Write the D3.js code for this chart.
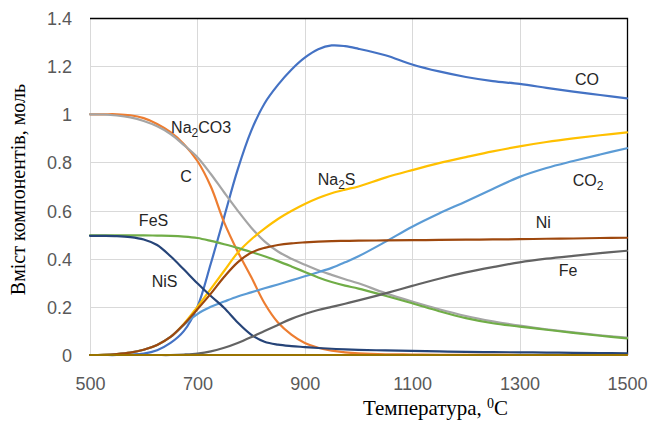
<!DOCTYPE html>
<html>
<head>
<meta charset="utf-8">
<script src="https://cdn.jsdelivr.net/npm/d3@7"></script>
<style>
  html, body { margin: 0; padding: 0; background: #fff; }
  svg { display: block; }
</style>
</head>
<body>
<svg id="chart" width="649" height="426"></svg>
<script>
// ---- Data ----
const temps = [500,525,550,575,600,625,650,675,700,725,750,775,800,825,850,875,900,925,950,975,1000,1050,1100,1150,1200,1250,1300,1350,1400,1450,1500];

const CO     = [0,0,0,0.002,0.006,0.02,0.05,0.1,0.2,0.38,0.575,0.77,0.93,1.045,1.122,1.185,1.235,1.27,1.286,1.283,1.272,1.245,1.207,1.178,1.155,1.138,1.126,1.11,1.094,1.08,1.066];
const C      = [1,1,1,0.996,0.984,0.96,0.926,0.876,0.806,0.7,0.55,0.43,0.325,0.215,0.135,0.085,0.05,0.03,0.018,0.011,0.007,0.003,0.002,0.001,0.001,0.001,0,0,0,0,0];
const Na2CO3 = [1,0.999,0.995,0.987,0.972,0.95,0.918,0.872,0.822,0.752,0.675,0.6,0.53,0.472,0.43,0.4,0.375,0.352,0.333,0.315,0.298,0.257,0.222,0.19,0.162,0.14,0.122,0.107,0.094,0.082,0.072];
const Na2S   = [0,0.001,0.004,0.01,0.022,0.042,0.075,0.13,0.2,0.275,0.35,0.425,0.48,0.525,0.565,0.598,0.627,0.652,0.672,0.687,0.7,0.737,0.768,0.797,0.822,0.846,0.867,0.885,0.9,0.913,0.925];
const CO2    = [0,0.001,0.004,0.01,0.022,0.042,0.075,0.125,0.17,0.2,0.222,0.243,0.26,0.277,0.293,0.31,0.327,0.344,0.362,0.385,0.41,0.47,0.533,0.588,0.638,0.69,0.74,0.777,0.806,0.833,0.859];
const FeS    = [0.497,0.497,0.497,0.497,0.497,0.496,0.495,0.492,0.486,0.474,0.46,0.445,0.428,0.41,0.39,0.368,0.345,0.322,0.303,0.288,0.276,0.246,0.215,0.182,0.153,0.132,0.118,0.105,0.092,0.08,0.069];
const NiS    = [0.495,0.495,0.494,0.49,0.48,0.457,0.41,0.355,0.298,0.245,0.195,0.135,0.085,0.055,0.043,0.037,0.033,0.029,0.026,0.023,0.021,0.019,0.017,0.015,0.013,0.012,0.011,0.01,0.009,0.008,0.007];
const Ni     = [0,0.001,0.004,0.01,0.022,0.042,0.075,0.128,0.19,0.255,0.325,0.385,0.425,0.445,0.457,0.464,0.468,0.471,0.473,0.474,0.475,0.476,0.477,0.478,0.479,0.48,0.481,0.483,0.484,0.486,0.487];
const Fe     = [0,0,0,0,0,0,0,0.002,0.006,0.015,0.03,0.05,0.074,0.1,0.125,0.15,0.17,0.187,0.2,0.213,0.227,0.256,0.287,0.317,0.343,0.365,0.385,0.4,0.412,0.423,0.433];
const other  = [0,0,0,0,0,0,0,0,0,0,0,0,0,0,0,0,0,0,0,0,0,0,0,0,0,0,0,0,0,0,0];

const seriesNames  = ["CO","C","Na2CO3","Na2S","CO2","FeS","NiS","Ni","Fe","other"];
const seriesValues = [CO, C, Na2CO3, Na2S, CO2, FeS, NiS, Ni, Fe, other];
const seriesColors = ["#4472C4","#ED7D31","#A5A5A5","#FFC000","#5B9BD5","#70AD47","#264478","#9E480E","#636363","#997300"];

const xTicks = [500,700,900,1100,1300,1500];
const yTicks = [0,0.2,0.4,0.6,0.8,1,1.2,1.4];

// in-plot labels: [main, subscript, tail, temperature, value]
const labels = [
  ["Na","2","CO3", 651, 0.922],
  ["C","","", 668, 0.719],
  ["FeS","","", 591, 0.536],
  ["NiS","","", 615, 0.283],
  ["Na","2","S", 924, 0.706],
  ["CO","","", 1403, 1.122],
  ["CO","2","", 1399, 0.702],
  ["Ni","","", 1330, 0.528],
  ["Fe","","", 1373, 0.328]
];

// ---- Layout ----
const svg = d3.select("#chart");
const L = 90, R = 627, T = 18, B = 355;
const x = d3.scaleLinear().domain([500,1500]).range([L,R]);
const y = d3.scaleLinear().domain([0,1.4]).range([B,T]);

// gridlines
svg.append("g").selectAll("line.h").data(yTicks).join("line")
  .attr("x1", L).attr("x2", R)
  .attr("y1", d => Math.round(y(d)) + 0.5).attr("y2", d => Math.round(y(d)) + 0.5)
  .attr("stroke", "#d9d9d9").attr("stroke-width", 1);
svg.append("g").selectAll("line.v").data(xTicks).join("line")
  .attr("y1", T).attr("y2", B)
  .attr("x1", d => Math.round(x(d)) + 0.5).attr("x2", d => Math.round(x(d)) + 0.5)
  .attr("stroke", "#d9d9d9").attr("stroke-width", 1);

// axes (labels only)
const xAxis = d3.axisBottom(x).tickValues(xTicks).tickSize(0).tickPadding(0).tickFormat(d3.format("d"));
const gx = svg.append("g").attr("transform", `translate(0,${B})`).call(xAxis);
gx.select(".domain").remove();
gx.selectAll("text").attr("dy", null).attr("y", 35)
  .attr("font-family", "'Liberation Sans', Arial, sans-serif").attr("font-size", 18).attr("fill", "#595959");

const yAxis = d3.axisLeft(y).tickValues(yTicks).tickSize(0).tickPadding(0).tickFormat(d => String(d));
const gy = svg.append("g").attr("transform", `translate(${L},0)`).call(yAxis);
gy.select(".domain").remove();
gy.selectAll("text").attr("x", -18).attr("dy", "0.36em")
  .attr("font-family", "'Liberation Sans', Arial, sans-serif").attr("font-size", 18).attr("fill", "#595959");

// plot border (top and right black)
svg.append("path")
  .attr("d", `M${L},${T + 0.5}H${R + 0.5}V${B}`)
  .attr("fill", "none").attr("stroke", "#000").attr("stroke-width", 1.3);

// lines
const line = d3.line().x((d, i) => x(temps[i])).y(d => y(d)).curve(d3.curveCatmullRom.alpha(0.5));
svg.append("g").selectAll("path").data(seriesValues).join("path")
  .attr("d", d => line(d))
  .attr("fill", "none")
  .attr("stroke", (d, i) => seriesColors[i])
  .attr("stroke-width", 2.2)
  .attr("stroke-linejoin", "round").attr("stroke-linecap", "round");

// in-plot labels
const lg = svg.append("g").attr("font-family", "'Liberation Sans', Arial, sans-serif")
  .attr("font-size", 16).attr("fill", "#262626");
labels.forEach(l => {
  const t = lg.append("text").attr("x", x(l[3])).attr("y", y(l[4]));
  t.append("tspan").text(l[0]);
  if (l[1]) t.append("tspan").attr("font-size", 12).attr("dy", 4).text(l[1]);
  if (l[2]) t.append("tspan").attr("dy", -4).text(l[2]);
});

// axis titles
svg.append("text")
  .attr("transform", `translate(25,${(80 + 299) / 2}) rotate(-90)`)
  .attr("text-anchor", "middle")
  .attr("font-family", "'Liberation Serif', 'Times New Roman', serif")
  .attr("font-size", 20).attr("fill", "#000")
  .text("Вміст компонентів, моль");

const xt = svg.append("text")
  .attr("x", (358 + 513) / 2).attr("y", 415)
  .attr("text-anchor", "middle")
  .attr("font-family", "'Liberation Serif', 'Times New Roman', serif")
  .attr("font-size", 21).attr("fill", "#000");
xt.append("tspan").text("Температура, ");
xt.append("tspan").attr("font-size", 14).attr("dy", -7).text("0");
xt.append("tspan").attr("dy", 7).text("C");
</script>
</body>
</html>
